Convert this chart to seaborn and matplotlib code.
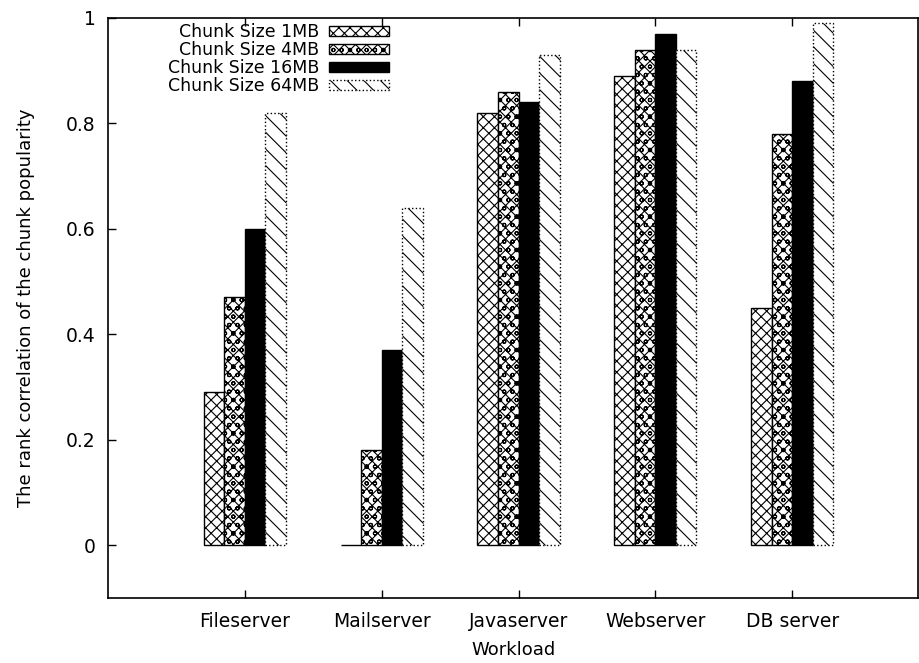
import matplotlib
matplotlib.use("Agg")
import matplotlib.pyplot as plt
import seaborn as sns
import pandas as pd
from matplotlib.patches import Patch

workloads = ["Fileserver", "Mailserver", "Javaserver", "Webserver", "DB server"]
sizes = ["Chunk Size 1MB", "Chunk Size 4MB", "Chunk Size 16MB", "Chunk Size 64MB"]
v1mb = [0.29, 0.0, 0.82, 0.89, 0.45]
v4mb = [0.47, 0.18, 0.86, 0.94, 0.78]
v16mb = [0.60, 0.37, 0.84, 0.97, 0.88]
v64mb = [0.82, 0.64, 0.93, 0.94, 0.99]
yticks = [0, 0.2, 0.4, 0.6, 0.8, 1.0]
ytick_labels = ["0", "0.2", "0.4", "0.6", "0.8", "1"]

sns.set_style("white")
plt.rcParams["font.family"] = ["DejaVu Sans"]
plt.rcParams["hatch.color"] = "black"
plt.rcParams["hatch.linewidth"] = 0.8
for k in ["text.color", "axes.labelcolor", "xtick.color", "ytick.color"]:
    plt.rcParams[k] = "black"

rows = []
for s, vals in zip(sizes, [v1mb, v4mb, v16mb, v64mb]):
    for w, v in zip(workloads, vals):
        rows.append({"Workload": w, "size": s, "value": v})
df = pd.DataFrame(rows)

fig = plt.figure(figsize=(9.19, 6.63), dpi=100)
ax = fig.add_axes([0.1175, 0.098, 0.8815, 0.875])

sns.barplot(data=df, x="Workload", y="value", hue="size", order=workloads,
            hue_order=sizes, width=0.6, palette=["white"] * 4, ax=ax,
            legend=False, errorbar=None, saturation=1)

styles = [
    dict(facecolor="white", hatch="xxx", linestyle="-"),
    dict(facecolor="white", hatch="xxxoo", linestyle="-"),
    dict(facecolor="black", hatch="", linestyle="-"),
    dict(facecolor="white", hatch="\\\\", linestyle=":"),
]
for cont, st in zip(ax.containers, styles):
    for bar in cont:
        bar.set_facecolor(st["facecolor"])
        bar.set_edgecolor("black")
        bar.set_hatch(st["hatch"])
        bar.set_linestyle(st["linestyle"])
        bar.set_linewidth(1.0)

handles = [Patch(facecolor=st["facecolor"], edgecolor="black", hatch=st["hatch"],
                 linestyle=st["linestyle"], linewidth=1.0) for st in styles]
leg = ax.legend(handles, sizes, loc="upper right",
                bbox_to_anchor=(389 / 919, 1 - 23 / 663), bbox_transform=fig.transFigure,
                frameon=False, markerfirst=False, fontsize=12.5,
                handlelength=3.45, handleheight=0.57, labelspacing=0.0,
                borderaxespad=0, borderpad=0, handletextpad=0.55)
for t in leg.get_texts():
    t.set_ha("right")
leg._legend_box.align = "right"

ax.set_xlim(-1, 4.92)
ax.set_ylim(-0.1, 1.0)
ax.set_yticks(yticks)
ax.set_yticklabels(ytick_labels)
ax.tick_params(axis="both", direction="in", labelsize=13.5, length=6, width=1,
               top=True, bottom=True, left=True, right=False)
ax.tick_params(axis="y", pad=9)
ax.tick_params(axis="x", pad=10)
ax.set_xlabel("Workload", fontsize=13, labelpad=7)
ax.set_ylabel("The rank correlation of the chunk popularity", fontsize=13, labelpad=22)
for sp in ax.spines.values():
    sp.set_linewidth(1.2)
    sp.set_color("black")

fig.savefig("out.png", dpi=100)
